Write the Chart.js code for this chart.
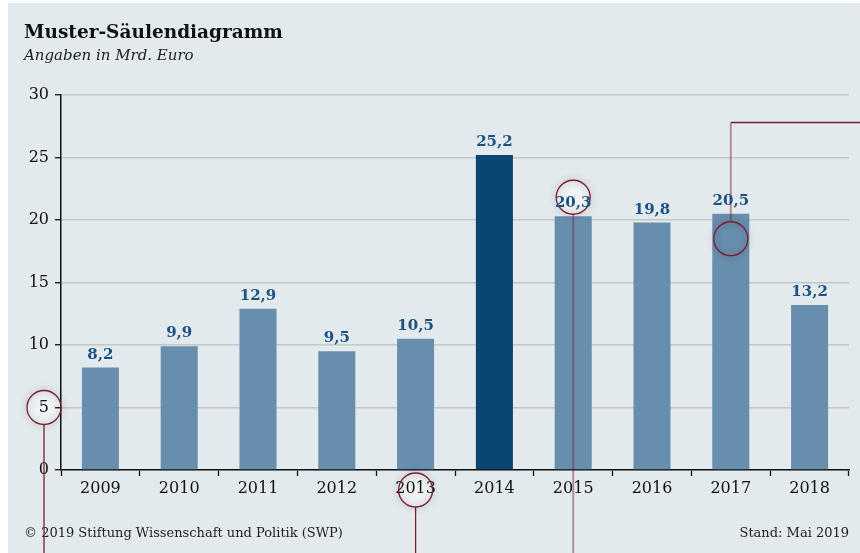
<!DOCTYPE html>
<html>
<head>
<meta charset="utf-8">
<script src="https://cdn.jsdelivr.net/npm/chart.js@4.4.0/dist/chart.umd.min.js"></script>
<style>
html,body{margin:0;padding:0;background:#fff;}
canvas{display:block;}
</style>
</head>
<body>
<canvas id="grafico" width="860" height="553"></canvas>
<script>
// Daten
var jahre = ['2009', '2010', '2011', '2012', '2013', '2014', '2015', '2016', '2017', '2018'];
var werte = [8.2, 9.9, 12.9, 9.5, 10.5, 25.2, 20.3, 19.8, 20.5, 13.2];
var hervorgehoben = '2014';
var yMax = 30;
var yStep = 5;

var titel = 'Muster-Säulendiagramm';
var untertitel = 'Angaben in Mrd. Euro';
var quelle = '© 2019 Stiftung Wissenschaft und Politik (SWP)';
var stand = 'Stand: Mai 2019';

var schrift = "'DejaVu Serif', serif";
var rot = '#7b1f30';

var farben = jahre.map(function(j){ return j === hervorgehoben ? '#0b4571' : '#688eae'; });

function komma(v){ return v.toFixed(1).replace('.', ','); }

// Hintergrund, Titel, Quelle
var rahmen = {
  id: 'rahmen',
  beforeDraw: function(chart){
    var c = chart.ctx;
    c.save();
    c.fillStyle = '#e3eaed';
    c.fillRect(8, 3, chart.width - 8, chart.height - 3);
    c.fillStyle = '#111';
    c.textBaseline = 'alphabetic';
    c.textAlign = 'left';
    c.font = "bold 18.5px " + schrift;
    c.fillText(titel, 24, 38);
    c.font = "italic 15px " + schrift;
    c.fillStyle = '#222';
    c.fillText(untertitel, 24, 60);
    c.font = "13px " + schrift;
    c.fillText(quelle, 24, 537);
    c.textAlign = 'right';
    c.fillText(stand, chart.chartArea.right, 537);
    c.restore();
  }
};

// Werte über den Säulen
var beschriftung = {
  id: 'beschriftung',
  afterDatasetsDraw: function(chart){
    var c = chart.ctx;
    var meta = chart.getDatasetMeta(0);
    c.save();
    c.font = "bold 15px " + schrift;
    c.fillStyle = '#1d5282';
    c.textAlign = 'center';
    c.textBaseline = 'alphabetic';
    meta.data.forEach(function(bar, i){
      c.fillText(komma(werte[i]), bar.x, bar.y - 9);
    });
    c.restore();
  }
};

// Markierungen (Kreise und Linien)
var R = 17;
function kreisPositionen(chart){
  var x = chart.scales.x, y = chart.scales.y;
  var meta = chart.getDatasetMeta(0);
  var b15 = meta.data[6], b17 = meta.data[8];
  return {
    k1: [x.left - 17, y.getPixelForValue(5)],
    k2: [x.getPixelForValue(4), y.bottom + 20],
    k3: [x.getPixelForValue(6), y.getPixelForValue(werte[6]) - 19],
    k4: [x.getPixelForValue(8), y.getPixelForValue(18.5)],
    oben: y.getPixelForValue(27.8)
  };
}

var markierung = {
  id: 'markierung',
  beforeDraw: function(chart){
    // helle Füllung unter den Texten
    var c = chart.ctx;
    var p = kreisPositionen(chart);
    c.save();
    c.fillStyle = 'rgba(255,255,255,0.45)';
    [p.k1, p.k2, p.k3].forEach(function(k){
      c.beginPath();
      c.arc(k[0], k[1], R, 0, Math.PI * 2);
      c.fill();
    });
    c.restore();
  },
  afterDatasetsDraw: function(chart){
    var c = chart.ctx;
    var p = kreisPositionen(chart);
    var unten = chart.height;
    c.save();

    function kreis(k){
      c.save();
      c.shadowColor = 'rgba(0,0,0,0.4)';
      c.shadowBlur = 7;
      c.beginPath();
      c.arc(k[0], k[1], R, 0, Math.PI * 2);
      c.strokeStyle = rot;
      c.lineWidth = 1.3;
      c.stroke();
      c.restore();
    }
    function linie(pts, alpha, w){
      c.beginPath();
      c.moveTo(pts[0][0], pts[0][1]);
      for (var k = 1; k < pts.length; k++) c.lineTo(pts[k][0], pts[k][1]);
      c.strokeStyle = alpha < 1 ? 'rgba(123,31,48,' + alpha + ')' : rot;
      c.lineWidth = w;
      c.stroke();
    }

    linie([[p.k1[0], p.k1[1] + R], [p.k1[0], unten]], 1, 1.3);
    kreis(p.k1);

    linie([[p.k2[0], p.k2[1] + R], [p.k2[0], unten]], 1, 1.3);
    kreis(p.k2);

    linie([[p.k3[0], p.k3[1] + R], [p.k3[0], unten]], 0.45, 2);
    kreis(p.k3);

    linie([[p.k4[0], p.k4[1] - R], [p.k4[0], p.oben]], 0.45, 2);
    linie([[p.k4[0], p.oben], [chart.width, p.oben]], 1, 1.3);
    kreis(p.k4);

    c.restore();
  }
};

var ctx = document.getElementById('grafico');
var chart = new Chart(ctx, {
  type: 'bar',
  data: {
    labels: jahre,
    datasets: [{
      data: werte,
      backgroundColor: farben,
      borderWidth: 0,
      barPercentage: 0.47,
      categoryPercentage: 1
    }]
  },
  options: {
    responsive: false,
    animation: false,
    layout: { padding: { left: 0, right: 11, top: 95, bottom: 0 } },
    plugins: {
      legend: { display: false },
      tooltip: { enabled: false }
    },
    scales: {
      x: {
        grid: {
          display: true,
          drawOnChartArea: false,
          offset: true,
          tickLength: 6,
          tickColor: '#111',
          tickWidth: 1.3
        },
        border: { color: '#111', width: 1.5 },
        ticks: { color: '#111', font: { family: schrift, size: 16 }, padding: 3, maxRotation: 0 },
        afterFit: function(s){ s.height = 83; }
      },
      y: {
        min: 0,
        max: yMax,
        ticks: { stepSize: yStep, color: '#111', font: { family: schrift, size: 16 }, padding: 6 },
        grid: {
          color: '#c4c8ca',
          lineWidth: 1.5,
          tickLength: 6,
          tickColor: '#111',
          tickWidth: 1.3
        },
        border: { color: '#111', width: 1.5 },
        afterFit: function(s){ s.width = 61; }
      }
    }
  },
  plugins: [rahmen, markierung, beschriftung]
});
</script>
</body>
</html>
